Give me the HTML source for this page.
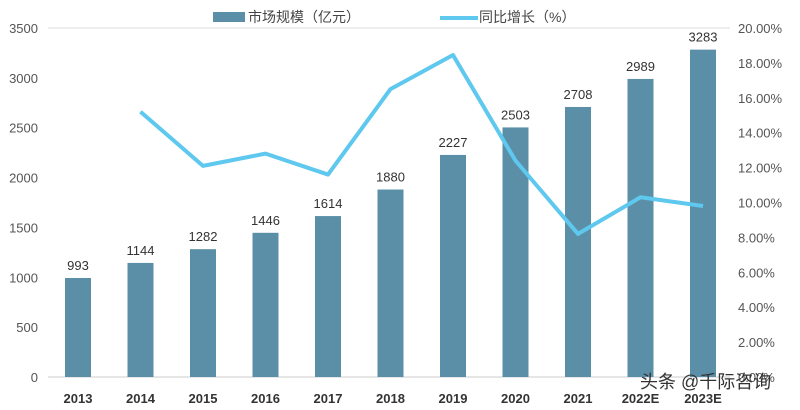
<!DOCTYPE html>
<html><head><meta charset="utf-8"><style>
html,body{margin:0;padding:0;background:#fff;}
svg{display:block;font-family:"Liberation Sans","Noto Sans CJK SC",sans-serif;}
</style></head><body>
<svg id="chart" width="800" height="410">
<g id="legend">
 <rect x="213" y="12" width="32" height="10" fill="#5b8fa8"/>
 <text x="248" y="22" font-size="14" fill="#444">市场规模（亿元）</text>
 <line x1="440" y1="18" x2="478" y2="18" stroke="#5ec8ee" stroke-width="4"/>
 <text x="479" y="22" font-size="14" fill="#444">同比增长（%）</text>
</g>
<line x1="48" y1="28" x2="730" y2="28" stroke="#ddd"/>
<line x1="48" y1="377" x2="730" y2="377" stroke="#ccc"/>
<g id="bars"></g><g id="labels"></g><g id="ticks"></g>
<path id="line" fill="none" stroke="#5ec8ee" stroke-width="4" stroke-linejoin="round"/>
<text x="640" y="388" font-size="18" fill="#333">头条 @千际咨询</text>
</svg>
<script>
const years=["2013","2014","2015","2016","2017","2018","2019","2020","2021","2022E","2023E"];
const sizes=[993,1144,1282,1446,1614,1880,2227,2503,2708,2989,3283];
const growth=[null,15.2,12.1,12.8,11.6,16.5,18.45,12.4,8.2,10.3,9.8];
const leftTicks=[0,500,1000,1500,2000,2500,3000,3500];
const rightTicks=[0,2,4,6,8,10,12,14,16,18,20];
const NS="http://www.w3.org/2000/svg";
const y0=377,yTop=28;
const yL=v=>y0-(v/3500)*(y0-yTop);
const yR=v=>y0-(v/20)*(y0-yTop);
const xC=i=>78+i*62.5;
function mk(t,a,p){const e=document.createElementNS(NS,t);for(const k in a)e.setAttribute(k,a[k]);document.getElementById(p).appendChild(e);return e;}
sizes.forEach((v,i)=>{
 const r=mk('rect',{x:xC(i)-13,y:yL(v),width:26,height:y0-yL(v),fill:'#5b8fa8'},'bars');
 
 
 const t=mk('text',{x:xC(i),y:yL(v)-8,'text-anchor':'middle','font-size':13,fill:'#333'},'labels');t.textContent=v;
 
 
 const c=mk('text',{x:xC(i),y:403,'text-anchor':'middle','font-size':13,'font-weight':'bold',fill:'#333'},'labels');c.textContent=years[i];
 
 
});
leftTicks.forEach(v=>{const t=mk('text',{x:38,y:yL(v)+5,'text-anchor':'end','font-size':13,fill:'#555'},'ticks');t.textContent=v;
 
 });
rightTicks.forEach(v=>{const t=mk('text',{x:738,y:yR(v)+5,'font-size':13,fill:'#555'},'ticks');t.textContent=v.toFixed(2)+'%';
 
 });
let d='';growth.forEach((g,i)=>{if(g==null)return;d+=(d?'L':'M')+xC(i)+','+yR(g);});
document.getElementById('line').setAttribute('d',d);
</script>
</body></html>
